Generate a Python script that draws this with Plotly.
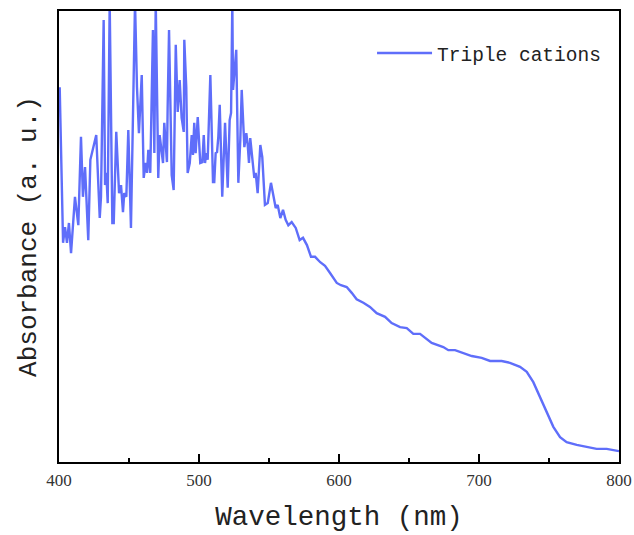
import plotly.graph_objects as go

wavelength = [400.5, 402.9, 404.3, 405.7, 407.1, 408.6, 411.4, 413.8, 415.7, 417.1, 418.6, 420.9, 422.4,
              426.6, 429.1, 430.0, 431.9, 432.9, 433.8, 434.8, 436.2, 438.1, 439.1, 440.9, 442.9, 444.3,
              445.7, 446.6, 448.1, 449.5, 451.4, 454.3, 455.7, 457.1, 459.1, 460.5, 461.9, 462.9, 463.8,
              465.2, 467.1, 468.1, 469.1, 470.9, 471.9, 473.4, 474.3, 475.2, 477.1, 477.6, 478.6, 480.5,
              481.9, 483.4, 484.8, 486.2, 487.6, 489.1, 489.5, 490.9, 491.9, 493.4, 494.8, 495.7, 496.6,
              497.6, 499.1, 500.9, 502.4, 503.4, 504.3, 505.2, 506.2, 508.1, 510.0, 510.9, 511.9, 512.9,
              513.8, 514.8, 516.6, 518.6, 520.5, 521.9, 522.9, 523.8, 524.3, 526.6, 528.1, 529.5, 530.5,
              532.4, 533.8, 534.8, 535.7, 536.6, 538.1, 539.5, 540.5, 541.9, 543.8, 545.2, 547.1, 549.1,
              551.4, 553.4, 554.8, 556.2, 558.1, 560.0, 561.9, 563.8, 566.2, 569.1, 571.9, 574.3, 577.1,
              580.0, 582.9, 586.6, 590.0, 593.6, 598.4, 601.4, 605.5, 609.1, 612.6, 617.4, 622.1, 626.9,
              632.9, 637.6, 643.6, 648.4, 653.1, 657.9, 661.4, 666.2, 674.5, 678.1, 682.9, 688.8, 694.8,
              701.9, 707.9, 716.2, 722.1, 729.3, 734.1, 738.8, 743.6, 748.4, 753.1, 757.9, 762.6, 769.8,
              776.9, 784.0, 791.2, 798.4, 800.0]

absorbance = [0.831, 0.486, 0.521, 0.486, 0.530, 0.463, 0.588, 0.525, 0.721, 0.588, 0.654, 0.492, 0.670,
              0.725, 0.541, 0.588, 0.980, 0.614, 0.641, 0.574, 1.020, 0.530, 0.530, 0.732, 0.596, 0.614,
              0.554, 0.596, 0.588, 0.736, 0.519, 1.020, 0.831, 0.729, 0.858, 0.630, 0.663, 0.641, 0.692,
              0.641, 0.958, 0.685, 1.020, 0.630, 0.725, 0.685, 0.663, 0.752, 0.665, 0.785, 0.958, 0.636,
              0.603, 0.925, 0.776, 0.847, 0.763, 0.732, 0.936, 0.831, 0.641, 0.663, 0.725, 0.681, 0.752,
              0.685, 0.765, 0.663, 0.665, 0.725, 0.663, 0.685, 0.670, 0.858, 0.621, 0.621, 0.685, 0.687,
              0.721, 0.792, 0.588, 0.752, 0.608, 0.758, 0.774, 1.020, 0.825, 0.914, 0.619, 0.714, 0.825,
              0.698, 0.729, 0.703, 0.663, 0.718, 0.676, 0.630, 0.641, 0.596, 0.703, 0.676, 0.570, 0.574,
              0.619, 0.588, 0.563, 0.570, 0.541, 0.559, 0.537, 0.525, 0.532, 0.519, 0.492, 0.497, 0.481,
              0.455, 0.455, 0.443, 0.435, 0.419, 0.397, 0.392, 0.388, 0.375, 0.361, 0.353, 0.344, 0.330,
              0.322, 0.308, 0.299, 0.297, 0.284, 0.284, 0.275, 0.264, 0.255, 0.248, 0.248, 0.242, 0.235,
              0.231, 0.224, 0.224, 0.220, 0.211, 0.200, 0.177, 0.144, 0.109, 0.078, 0.055, 0.044, 0.038,
              0.033, 0.029, 0.029, 0.024, 0.024]

x_ticks = [400, 500, 600, 700, 800]
series_name = "Triple cations"

fig = go.Figure()
fig.add_trace(go.Scatter(
    x=wavelength, y=absorbance, mode="lines", name=series_name,
    line=dict(color="#5F6EFA", width=2.4),
    showlegend=True,
))

fig.update_layout(
    width=634, height=535,
    margin=dict(l=59, r=15, t=11, b=73),
    plot_bgcolor="white", paper_bgcolor="white",
    showlegend=True,
    legend=dict(
        x=0.559, y=0.906, xanchor="left", yanchor="middle",
        font=dict(family="Liberation Mono", size=19.5, color="#222"),
        bgcolor="rgba(0,0,0,0)", itemwidth=55,
    ),
    xaxis=dict(
        range=[400, 800], tickvals=x_ticks, ticktext=[str(v) for v in x_ticks],
        ticks="inside", ticklen=8, tickwidth=2, tickcolor="black",
        minor=dict(dtick=50, ticks="inside", ticklen=4, tickwidth=2, tickcolor="black", showgrid=False),
        showline=True, linewidth=2, linecolor="black", mirror=True,
        showgrid=False, zeroline=False, automargin=False,
        ticklabelstandoff=2,
        tickfont=dict(family="Liberation Serif", size=17, color="#333"),
        title=dict(text="Wavelength (nm)", font=dict(family="Liberation Mono", size=27.5, color="#222"),
                   standoff=16),
    ),
    yaxis=dict(
        range=[0, 1.0], showticklabels=False, ticks="",
        showline=True, linewidth=2, linecolor="black", mirror=True,
        showgrid=False, zeroline=False, automargin=False,
        title=dict(text="Absorbance (a. u.)", font=dict(family="Liberation Mono", size=26, color="#222"),
                   standoff=13),
    ),
)

fig.write_html("out.html",
               config={"displayModeBar": False},
               post_script="document.body.style.margin='0';document.body.style.overflow='hidden';")
